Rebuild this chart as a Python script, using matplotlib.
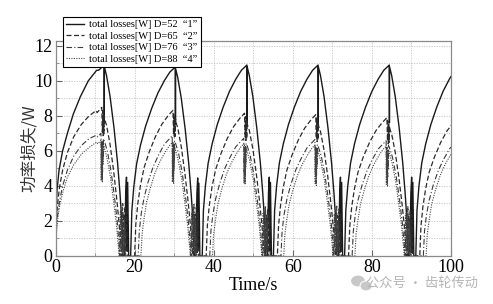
import numpy as np
import matplotlib
matplotlib.use('Agg')
import matplotlib.pyplot as plt
from matplotlib.ticker import MultipleLocator
from matplotlib.patches import Ellipse

# ---------------- data ----------------
# times of the solid-curve peaks (one per cycle)
peak_times = [12.3, 30.3, 48.4, 66.4, 84.4, 102.4]

# series 1: D=52 (solid) -- first rise from t=0, then one cycle shape relative to the peak
s1_first_t = [0.0, 0.15, 0.4, 0.9, 1.8, 3.0, 4.5, 6.3, 8.3, 10.4]
s1_first_v = [0.5, 2.6, 3.8, 4.9, 6.0, 7.0, 8.1, 9.1, 10.0, 10.6]
s1_cycle_t = [-11.3, -11.0, -10.5, -9.8, -8.8, -7.5, -6.0, -4.4, -2.8, -1.4, 0.0, 0.03, 0.06,
              0.6, 1.5, 2.5, 3.4, 4.0, 4.5, 4.8, 5.2, 5.45, 5.65, 5.8, 5.95, 6.2]
s1_cycle_v = [0.0, 2.6, 4.0, 5.3, 6.4, 7.5, 8.5, 9.4, 10.1, 10.6, 10.9, 7.6, 10.8,
              10.3, 9.1, 7.3, 5.3, 3.6, 1.9, 0.0, 0.0, 3.6, 4.5, 0.3, 4.2, 0.0]
s1_scale = [1.0, 0.99, 1.0, 1.0, 1.0, 1.0]

# series 2: D=65 (dashed)
s2_first_t = [0.0, 0.2, 0.5, 1.0, 1.8, 3.0, 4.6, 6.5, 8.5, 10.3]
s2_first_v = [0.4, 1.9, 2.9, 3.9, 4.9, 5.9, 6.8, 7.5, 8.0, 8.3]
s2_cycle_t = [-10.3, -10.0, -9.5, -8.8, -7.9, -6.6, -5.0, -3.4, -1.8, -0.6,
              -0.45, -0.35, -0.25, -0.15, -0.05, 0.05, 0.15,
              0.6, 1.5, 2.4, 3.2, 3.8, 4.2, 4.5, 4.9, 5.1, 5.3, 5.5, 5.7, 5.9]
s2_cycle_v = [0.0, 1.8, 3.0, 4.1, 5.1, 6.0, 6.9, 7.6, 8.1, 8.4,
              7.0, 8.2, 6.8, 8.0, 6.9, 7.9, 7.7,
              7.4, 6.3, 4.8, 3.2, 1.8, 0.6, 0.0, 2.4, 0.3, 2.8, 0.2, 2.5, 0.0]
s2_scale = [1.01, 0.99, 0.97, 0.96, 0.94, 0.94]

# series 3: D=76 (dash-dot)
s3_first_t = [0.0, 0.2, 0.5, 1.0, 1.8, 3.0, 4.6, 6.5, 8.5, 10.4]
s3_first_v = [0.3, 1.5, 2.3, 3.1, 4.0, 4.9, 5.7, 6.3, 6.7, 6.9]
s3_cycle_t = [-9.4, -9.1, -8.6, -7.9, -6.9, -5.6, -4.2, -2.8, -1.6, -0.8,
              -0.7, -0.6, -0.5, -0.45, -0.4, -0.35, -0.3, -0.2, 0.0,
              0.8, 1.7, 2.6, 3.3, 3.7, 4.0, 4.3, 4.5, 4.7, 4.9, 5.1, 5.3, 5.5]
s3_cycle_v = [0.0, 1.5, 2.5, 3.4, 4.3, 5.2, 5.9, 6.5, 6.8, 7.0,
              5.0, 6.6, 4.4, 6.2, 4.8, 6.5, 5.5, 6.7, 6.6,
              6.0, 4.9, 3.4, 2.0, 0.9, 0.0, 2.6, 0.3, 3.0, 0.2, 2.2, 0.4, 0.0]
s3_scale = [1.0, 0.98, 0.96, 0.95, 0.94, 0.94]

# series 4: D=88 (dotted)
s4_first_t = [0.0, 0.2, 0.5, 1.0, 1.8, 3.0, 4.6, 6.5, 8.5, 10.4]
s4_first_v = [0.3, 1.2, 2.0, 2.8, 3.6, 4.5, 5.2, 5.8, 6.2, 6.5]
s4_cycle_t = [-8.7, -8.4, -7.9, -7.3, -6.4, -5.2, -3.9, -2.7, -1.6, -0.8,
              -0.75, -0.65, -0.6, -0.5, -0.45, -0.4, -0.3, -0.1,
              0.7, 1.6, 2.4, 3.1, 3.5, 3.8, 4.1, 4.3, 4.6, 4.8, 5.1, 5.3]
s4_cycle_v = [0.0, 1.3, 2.2, 3.1, 3.9, 4.8, 5.5, 6.0, 6.4, 6.6,
              4.3, 6.2, 4.6, 6.0, 4.2, 6.3, 5.2, 6.3,
              5.6, 4.5, 3.1, 1.8, 0.8, 0.0, 2.5, 0.2, 2.9, 0.3, 2.0, 0.0]
s4_scale = [1.0, 0.98, 0.97, 0.96, 0.95, 0.95]

labels = ['total losses[W] D=52  \u201c1\u201d',
          'total losses[W] D=65  \u201c2\u201d',
          'total losses[W] D=76  \u201c3\u201d',
          'total losses[W] D=88  \u201c4\u201d']

x_ticks = [0, 20, 40, 60, 80, 100]
y_ticks = [0, 2, 4, 6, 8, 10, 12]


def build(first_t, first_v, cyc_t, cyc_v, scales):
    ts, vs = list(first_t), list(first_v)
    for i, (p, s) in enumerate(zip(peak_times, scales)):
        for rt, rv in zip(cyc_t, cyc_v):
            t = p + rt
            if i == 0 and t <= first_t[-1]:
                continue
            ts.append(t)
            vs.append(rv * s)
    return np.array(ts), np.array(vs)


series = [
    build(s1_first_t, s1_first_v, s1_cycle_t, s1_cycle_v, s1_scale),
    build(s2_first_t, s2_first_v, s2_cycle_t, s2_cycle_v, s2_scale),
    build(s3_first_t, s3_first_v, s3_cycle_t, s3_cycle_v, s3_scale),
    build(s4_first_t, s4_first_v, s4_cycle_t, s4_cycle_v, s4_scale),
]
styles = [dict(ls='-', lw=1.0, color='#1a1a1a'),
          dict(ls=(0, (4, 2)), lw=0.9, color='#2a2a2a'),
          dict(ls=(0, (5, 2, 1, 2)), lw=0.8, color='#3a3a3a'),
          dict(ls=(0, (1, 1.2)), lw=0.8, color='#444444')]

# ---------------- figure ----------------
plt.rcParams['font.family'] = ['Liberation Serif', 'DejaVu Serif']
fig = plt.figure(figsize=(4.93, 3.04), dpi=100)
ax = fig.add_axes([55.5 / 493, 48 / 304, (451 - 55.5) / 493, (256 - 40.5) / 304])

handles = []
for (t, v), st, lab in zip(series, styles, labels):
    h, = ax.plot(t, v, label=lab, **st)
    handles.append(h)

ax.set_xlim(0, 100)
ax.set_ylim(0, 12.3)
ax.set_xticks(x_ticks)
ax.set_yticks(y_ticks)
ax.xaxis.set_minor_locator(MultipleLocator(10))
ax.yaxis.set_minor_locator(MultipleLocator(1))
ax.grid(True, which='both', ls=(0, (1.5, 1.5)), lw=0.6, color='#c4c4c4')
ax.set_axisbelow(True)
for sp in ax.spines.values():
    sp.set_color('#8a8a8a')
    sp.set_linewidth(0.9)
ax.tick_params(which='major', direction='in', length=4, width=0.8, color='#666666',
               labelsize=13, pad=2)
ax.tick_params(which='minor', direction='in', length=2, width=0.6, color='#888888')

ax.set_xlabel('Time/s', fontsize=13, labelpad=1)
ax.set_ylabel('功率损失/W', fontsize=12, family=['Noto Sans CJK SC', 'DejaVu Sans'],
              labelpad=-2, color='#333333')

leg = fig.legend(handles=handles, loc='upper left', bbox_to_anchor=(63 / 493, 1 - 17 / 304),
                 bbox_transform=fig.transFigure, fontsize=7.5, frameon=True, fancybox=False,
                 edgecolor='black', framealpha=1, handlelength=1.7, handletextpad=0.5,
                 borderpad=0.3, labelspacing=0.2, borderaxespad=0)
leg.get_frame().set_linewidth(0.8)

# watermark (icon + text)
for (cx, cy, w, h) in [(358, 281, 15, 12), (366, 286, 12, 10)]:
    fig.add_artist(Ellipse((cx / 493, 1 - cy / 304), w / 493, h / 304,
                           transform=fig.transFigure, facecolor='#c8c8c8',
                           edgecolor='white', lw=0.8))
fig.text(478 / 493, 1 - 283 / 304, '公众号 · 齿轮传动', fontsize=9.5, color='#b5b5b5',
         family=['Noto Sans CJK SC', 'DejaVu Sans'], va='center', ha='right')

fig.savefig('out.png', dpi=100)
